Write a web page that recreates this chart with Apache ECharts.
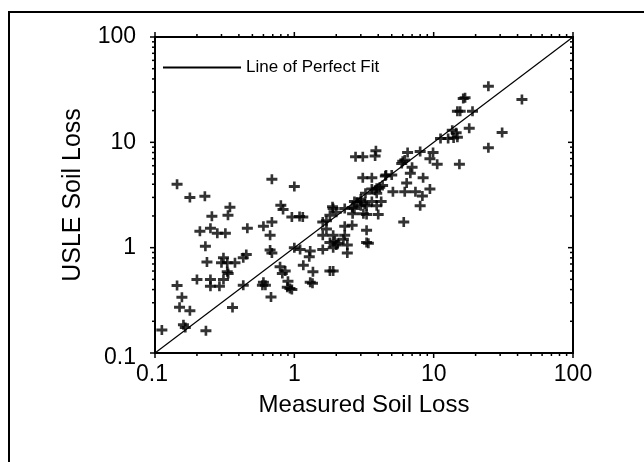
<!DOCTYPE html>
<html>
<head>
<meta charset="utf-8">
<script src="https://cdn.jsdelivr.net/npm/echarts@6/dist/echarts.min.js"></script>
<style>html,body{margin:0;padding:0;background:#fff;}#c{width:644px;height:462px;}</style>
</head>
<body>
<div id="c"></div>
<script>
// Measured soil loss (x) and USLE-predicted soil loss (y)
const measuredLoss = [
  0.112,0.16,0.165,0.232,0.15,0.178,0.156,0.144,
  0.2,0.25,0.31,0.25,0.29,0.33,0.335,
  0.31,0.30,0.33,0.375,0.236,0.43,0.452,0.43,0.36,
  0.144,0.178,0.228,0.69,0.345,0.256,0.334,
  0.21,0.25,0.28,0.32,0.46,0.23,
  0.6,0.69,0.67,0.67,0.69,0.8,0.83,
  0.96,1.09,1.15,1.0,
  0.59,0.62,0.6,0.68,0.79,0.82,0.86,0.9,0.93,0.89,0.96,
  1.16,1.28,1.36,1.3,1.35,1.8,1.9,2.4,
  1.0,1.1,1.3,1.6,1.8,2.0,1.9,2.4,1.95,2.05,2.25,
  1.6,1.9,2.3,3.4,3.3,1.7,3.3,2.3,2.6,1.6,1.7,
  1.8,2.0,1.9,1.88,2.3,2.7,
  2.6,2.83,3.0,3.3,3.9,2.62,3.13,3.3,4.0,
  2.7,3.0,3.6,4.2,3.0,3.2,3.24,3.9,
  3.6,3.8,4.1,4.3,3.9,3.1,3.6,4.5,
  2.75,3.1,3.8,3.85,
  4.55,5.0,5.1,6.2,7.4,8.3,6.4,8.4,9.4,8.0,6.1,
  6.0,6.2,5.9,6.5,8.0,9.9,9.4,10.6,7.0,6.8,15.3,
  11.2,12.7,13.9,14.8,13.6,14.5,18.0,
  14.8,15.5,19.0,16.3,16.8,24.7,43,31,24.7
];
const usleLoss = [
  0.165,0.185,0.175,0.163,0.272,0.252,0.338,0.438,
  0.50,0.50,0.50,0.43,0.43,0.59,0.57,
  0.80,0.72,0.72,0.72,0.73,0.80,0.86,0.44,0.27,
  4.0,3.0,3.07,4.45,2.42,1.99,2.03,
  1.43,1.53,1.37,1.37,1.53,1.03,
  1.6,1.75,1.31,0.95,0.89,2.53,2.3,
  1.95,1.98,1.95,3.8,
  0.44,0.44,0.47,0.34,0.66,0.57,0.6,0.48,0.41,0.42,0.40,
  0.68,0.82,0.59,0.47,0.46,0.6,0.6,0.89,
  1.0,0.96,0.93,0.96,1.12,1.06,1.0,1.06,1.15,1.1,1.2,
  1.31,1.31,1.31,1.1,1.12,1.5,1.46,1.6,1.63,1.75,1.8,
  2.03,2.17,2.35,2.45,2.35,2.35,
  2.4,2.7,2.5,2.5,2.5,2.1,2.1,2.07,2.07,
  2.74,2.74,2.74,2.74,2.9,2.6,3.28,3.28,
  3.6,3.5,3.75,3.9,3.67,4.6,4.6,4.8,
  7.3,7.3,7.4,8.3,
  4.9,4.9,3.4,3.4,3.4,3.1,4.1,4.6,3.6,2.5,1.75,
  6.6,6.8,6.3,8.0,8.2,8.0,7.0,6.2,5.8,5.1,6.2,
  10.9,10.9,11.0,11.2,13.0,12.3,13.6,
  19.7,19.7,19.7,26,26.5,34,25.5,12.4,8.9
];
const fitLine = [[0.1, 0.1], [100, 100]];
const axisMin = 0.1, axisMax = 100;
const decades = [0.1, 1, 10];
const minorSteps = [2, 3, 4, 5, 6, 7, 8, 9];

const points = measuredLoss.map((x, i) => [x, usleLoss[i]]);

// tick marks around the frame (major at decades, minor at 2..9)
const tickItems = [];
const tickVals = [];
decades.forEach(d => { tickVals.push([d, 1]); minorSteps.forEach(m => tickVals.push([+(d * m).toPrecision(3), 0])); });
tickVals.push([100, 1]);
tickVals.forEach(([v, major]) => {
  tickItems.push([v, 1, 0, major]);
  tickItems.push([v, 1, 1, major]);
  tickItems.push([1, v, 2, major]);
  tickItems.push([1, v, 3, major]);
});

const FONT = "'Liberation Sans', Arial, sans-serif";
const plus = 'path://M3.7,0 H6.3 V3.5 H10.4 V6.5 H-0.4 V3.5 H3.7 Z M3.7,6.5 H6.3 V10 H3.7 Z';
const fmt = v => String(+(+v).toPrecision(3));

const chart = echarts.init(document.getElementById('c'), null, { renderer: 'canvas' });
chart.setOption({
  animation: false,
  backgroundColor: '#fff',
  graphic: [{
    type: 'rect', silent: true, z: 0,
    shape: { x: 9, y: 12, width: 720, height: 520 },
    style: { fill: 'none', stroke: '#000', lineWidth: 2 }
  }],
  grid: {
    left: 155, right: 71, top: 37, bottom: 109,
    show: true, borderColor: '#000', borderWidth: 2, backgroundColor: 'transparent'
  },
  legend: {
    data: [{ name: 'Line of Perfect Fit', icon: 'rect' }],
    left: 163, top: 59, padding: 0,
    itemWidth: 78, itemHeight: 2,
    textStyle: { fontFamily: FONT, fontSize: 17, color: '#000' },
    selectedMode: false
  },
  xAxis: {
    type: 'log', logBase: 10, min: axisMin, max: axisMax,
    name: 'Measured Soil Loss', nameLocation: 'middle', nameGap: 40,
    nameTextStyle: { fontFamily: FONT, fontSize: 24, color: '#000' },
    axisLine: { show: false },
    axisTick: { show: false },
    splitLine: { show: false },
    axisLabel: {
      margin: 10, fontFamily: FONT, fontSize: 23, color: '#000',
      formatter: v => (+v === axisMin ? '{l|' + fmt(v) + '}' : fmt(v)),
      rich: { l: { fontFamily: FONT, fontSize: 23, color: '#000', padding: [0, 6, 0, 0] } }
    }
  },
  yAxis: {
    type: 'log', logBase: 10, min: axisMin, max: axisMax,
    name: 'USLE Soil Loss', nameLocation: 'middle', nameGap: 69, nameRotate: 90,
    nameTextStyle: { fontFamily: FONT, fontSize: 25, color: '#000' },
    axisLine: { show: false },
    axisTick: { show: false },
    splitLine: { show: false },
    axisLabel: {
      margin: 19, fontFamily: FONT, fontSize: 23, color: '#000',
      formatter: v => (+v === axisMin ? '{l|' + fmt(v) + '}' : fmt(v)),
      rich: { l: { fontFamily: FONT, fontSize: 23, color: '#000', padding: [10, 0, 0, 0] } }
    }
  },
  series: [
    {
      name: 'Line of Perfect Fit', type: 'line', data: fitLine,
      symbol: 'none', color: '#000',
      lineStyle: { color: '#000', width: 1.2 }, z: 2, silent: true
    },
    {
      name: 'data', type: 'scatter', data: points,
      symbol: plus, symbolSize: [11, 10],
      itemStyle: { color: '#000' }, z: 3, silent: true
    },
    {
      name: 'ticks', type: 'custom', data: tickItems, silent: true, z: 4,
      encode: { x: 0, y: 1 },
      renderItem: function (params, api) {
        const cs = params.coordSys;
        const p = api.coord([api.value(0), api.value(1)]);
        const side = api.value(2);
        const len = api.value(3) ? 5 : 3;
        let s;
        if (side === 0) { const y0 = cs.y + cs.height; s = { x1: p[0], y1: y0, x2: p[0], y2: y0 + len }; }
        else if (side === 1) { const y0 = cs.y; s = { x1: p[0], y1: y0, x2: p[0], y2: y0 - len }; }
        else if (side === 2) { const x0 = cs.x; s = { x1: x0, y1: p[1], x2: x0 - len, y2: p[1] }; }
        else { const x0 = cs.x + cs.width; s = { x1: x0, y1: p[1], x2: x0 - len, y2: p[1] }; }
        return { type: 'line', shape: s, style: { stroke: '#000', lineWidth: 1.5 } };
      }
    }
  ]
});
</script>
</body>
</html>
